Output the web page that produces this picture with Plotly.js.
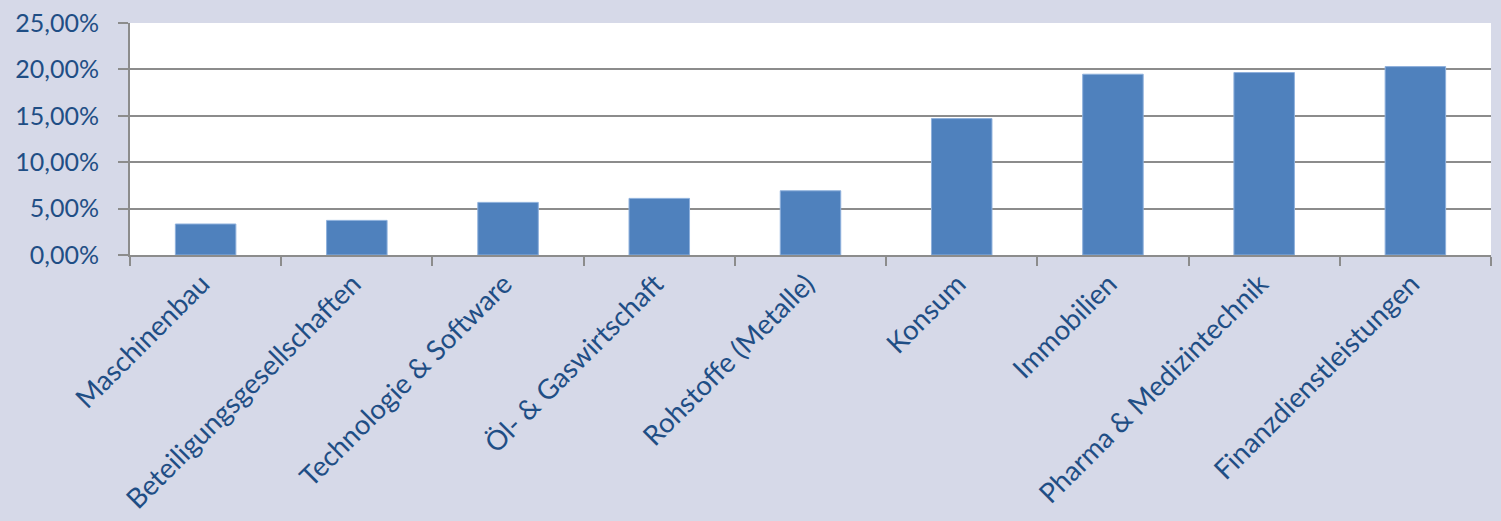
<!DOCTYPE html>
<html>
<head>
<meta charset="utf-8">
<script src="https://cdn.plot.ly/plotly-3.0.1.min.js"></script>
<style>html,body{margin:0;padding:0;background:#d6d9e8;}#chart{width:1501px;height:521px;}</style>
</head>
<body>
<div id="chart"></div>
<script>
var categories = ["Maschinenbau", "Beteiligungsgesellschaften", "Technologie & Software", "Öl- & Gaswirtschaft", "Rohstoffe (Metalle)", "Konsum", "Immobilien", "Pharma & Medizintechnik", "Finanzdienstleistungen"];
var values = [3.34, 3.73, 5.67, 6.10, 6.92, 14.70, 19.48, 19.66, 20.30];
var yTickVals = [0, 5, 10, 15, 20, 25];
var yTickText = ["0,00%", "5,00%", "10,00%", "15,00%", "20,00%", "25,00%"];

var textColor = "#1f4e85";
var fontFamily = "Lato, 'Open Sans', sans-serif";

var trace = {
  type: "bar",
  x: categories,
  y: values,
  marker: {color: "#4f81bd", line: {color: "#8eb0dc", width: 1}},
  hoverinfo: "x+y"
};

var layout = {
  width: 1501,
  height: 521,
  paper_bgcolor: "#d6d9e8",
  plot_bgcolor: "#ffffff",
  margin: {l: 130, r: 10, t: 23, b: 266, pad: 0},
  bargap: 0.6,
  showlegend: false,
  font: {family: fontFamily, color: textColor, size: 27},
  xaxis: {
    type: "category",
    tickangle: -45,
    ticks: "outside",
    tickson: "boundaries",
    ticklen: 9,
    tickwidth: 2,
    tickcolor: "#8c8c8c",
    showline: true,
    linecolor: "#8c8c8c",
    linewidth: 2,
    showgrid: false,
    ticklabelshift: -4,
    tickfont: {family: fontFamily, color: textColor, size: 27.5},
    automargin: false
  },
  yaxis: {
    range: [0, 25],
    tickvals: yTickVals,
    ticktext: yTickText,
    ticks: "outside",
    ticklen: 10,
    tickwidth: 2,
    tickcolor: "#8c8c8c",
    showline: true,
    linecolor: "#8c8c8c",
    linewidth: 2,
    showgrid: true,
    gridcolor: "#8c8c8c",
    gridwidth: 2,
    zeroline: false,
    ticklabelstandoff: 14,
    tickfont: {family: fontFamily, color: textColor, size: 25},
    automargin: false
  }
};

Plotly.newPlot("chart", [trace], layout, {displayModeBar: false, staticPlot: true});
</script>
</body>
</html>
